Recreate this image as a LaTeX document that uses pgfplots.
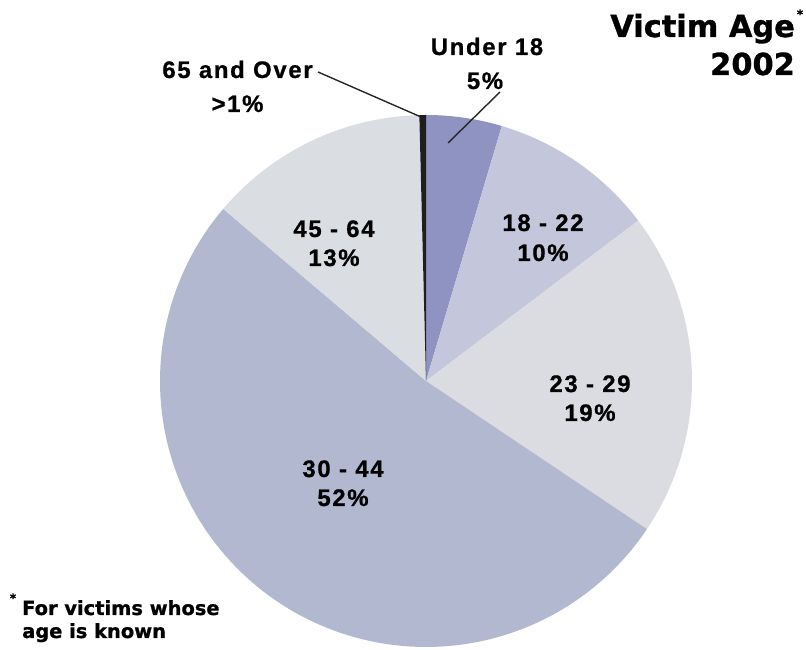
\documentclass[border=0pt]{standalone}
\usepackage{pgfplots}
\usepackage{pgfplotstable}
\pgfplotsset{compat=1.18}
\usepackage{fontspec}
\setmainfont{Liberation Sans}
\newfontfamily\lab{Liberation Sans}[LetterSpace=7, BoldFeatures={FakeBold=0.8}]
\newfontfamily\heavy{DejaVu Sans}[BoldFeatures={FakeBold=1}]

\definecolor{cU18}{HTML}{8F93C2}
\definecolor{c1822}{HTML}{C4C6DC}
\definecolor{c2329}{HTML}{DADCE1}
\definecolor{c3044}{HTML}{B1B8D0}
\definecolor{c4564}{HTML}{DADDE1}
\definecolor{c65}{HTML}{1E1E1E}

% share of victims per age group, clockwise from 12 o'clock
\pgfplotstableread{
group   pct
U18     4.6
A1822   10.1
A2329   19.7
A3044   51.8
A4564   13.4
A65     0.4
}\agedata

% one wedge: lower angle, upper angle, colour (centre 426,269, radius 266)
\newcommand\slice[3]{%
  \addplot[draw=none, fill=#3, domain=#1:#2, samples=120, variable=\t]
    ({426+266*cos(\t)}, {269+266*sin(\t)}) -- (axis cs:426,269) -- cycle;}

\newcommand\labfont{\lab\bfseries\fontsize{24}{28}\selectfont}

\begin{document}
\begin{tikzpicture}
  % running angles, starting at the top and going clockwise
  \def\angA{90}
  \pgfplotstablegetelem{0}{pct}\of\agedata \pgfmathsetmacro\angB{\angA-3.6*\pgfplotsretval}
  \pgfplotstablegetelem{1}{pct}\of\agedata \pgfmathsetmacro\angC{\angB-3.6*\pgfplotsretval}
  \pgfplotstablegetelem{2}{pct}\of\agedata \pgfmathsetmacro\angD{\angC-3.6*\pgfplotsretval}
  \pgfplotstablegetelem{3}{pct}\of\agedata \pgfmathsetmacro\angE{\angD-3.6*\pgfplotsretval}
  \pgfplotstablegetelem{4}{pct}\of\agedata \pgfmathsetmacro\angF{\angE-3.6*\pgfplotsretval}
  \pgfplotstablegetelem{5}{pct}\of\agedata \pgfmathsetmacro\angG{\angF-3.6*\pgfplotsretval}
  \begin{axis}[
      width=806bp, height=650bp, scale only axis,
      xmin=0, xmax=806, ymin=0, ymax=650,
      hide axis, clip=false
    ]
    \path (axis cs:0,0) rectangle (axis cs:806,650);

    \slice{\angB}{\angA}{cU18}
    \slice{\angC}{\angB}{c1822}
    \slice{\angD}{\angC}{c2329}
    \slice{\angE}{\angD}{c3044}
    \slice{\angF}{\angE}{c4564}
    \slice{\angG}{\angF}{c65}

    % leader lines
    \draw[line width=1.4bp, black!85] (axis cs:500,558) -- (axis cs:448,507);
    \draw[line width=1.4bp, black!85] (axis cs:318,578) -- (axis cs:421,533);

    % slice labels
    \node[anchor=base, font=\labfont] at (axis cs:487,595) {Under 18};
    \node[anchor=base, font=\labfont] at (axis cs:485,561) {5\%};
    \node[anchor=base, font=\labfont] at (axis cs:237.5,572) {65 and Over};
    \node[anchor=base, font=\labfont] at (axis cs:237.5,538) {>1\%};
    \node[anchor=base, font=\labfont] at (axis cs:543,419) {18 - 22};
    \node[anchor=base, font=\labfont] at (axis cs:543,389) {10\%};
    \node[anchor=base, font=\labfont] at (axis cs:590,258) {23 - 29};
    \node[anchor=base, font=\labfont] at (axis cs:590,229) {19\%};
    \node[anchor=base, font=\labfont] at (axis cs:343,173) {30 - 44};
    \node[anchor=base, font=\labfont] at (axis cs:343,144) {52\%};
    \node[anchor=base, font=\labfont] at (axis cs:334,413) {45 - 64};
    \node[anchor=base, font=\labfont] at (axis cs:334,384) {13\%};

    % title
    \node[anchor=base east, inner sep=0pt, font=\heavy\bfseries\fontsize{30.5}{34}\selectfont]
      at (axis cs:795,613) {Victim Age};
    \node[anchor=center, inner sep=0pt, font=\heavy\bfseries\fontsize{12}{14}\selectfont]
      at (axis cs:800,636) {*};
    \node[anchor=base east, inner sep=0pt, font=\heavy\bfseries\fontsize{30.5}{34}\selectfont]
      at (axis cs:795,575) {2002};

    % footnote
    \node[anchor=center, inner sep=0pt, font=\heavy\bfseries\fontsize{12}{14}\selectfont]
      at (axis cs:13,52) {*};
    \node[anchor=base west, inner sep=0pt, font=\heavy\bfseries\fontsize{19.5}{22}\selectfont]
      at (axis cs:22,35) {For victims whose};
    \node[anchor=base west, inner sep=0pt, font=\heavy\bfseries\fontsize{19.5}{22}\selectfont]
      at (axis cs:22,12) {age is known};
  \end{axis}
\end{tikzpicture}
\end{document}
